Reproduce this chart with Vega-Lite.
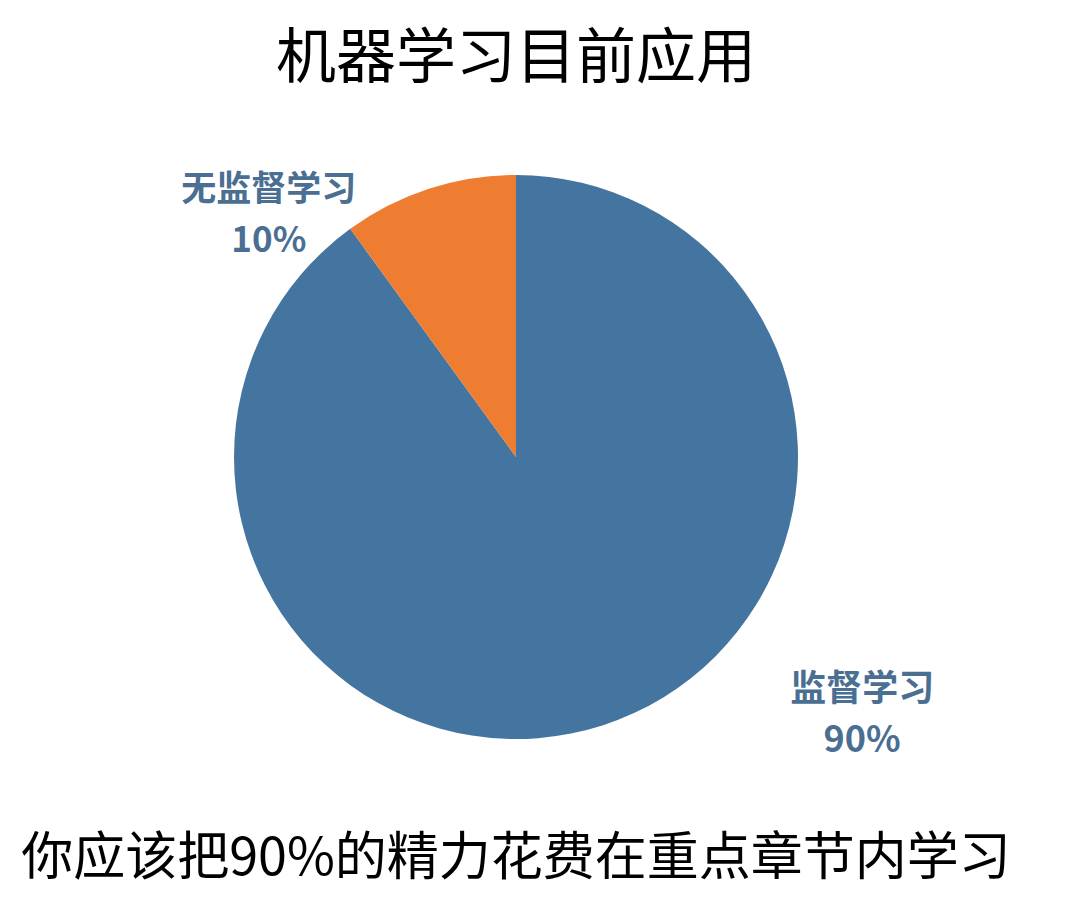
{
  "$schema": "https://vega.github.io/schema/vega-lite/v6.json",
  "background": "white",
  "padding": {"left": 21, "top": 29, "right": 20, "bottom": 40},
  "title": {
    "text": "机器学习目前应用",
    "font": "Noto Sans CJK SC",
    "fontSize": 60,
    "fontWeight": "normal",
    "color": "#000000",
    "anchor": "middle",
    "offset": 82
  },
  "bounds": "flush",
  "vconcat": [
    {
      "width": 564,
      "height": 564,
      "title": {
        "text": "你应该把90%的精力花费在重点章节内学习",
        "orient": "bottom",
        "font": "Noto Sans CJK SC",
        "fontSize": 52,
        "fontWeight": "normal",
        "color": "#000000",
        "anchor": "middle",
        "offset": 75
      },
      "data": {
        "values": [
          {"category": "监督学习", "value": 90, "label": "90%", "order": 1},
          {"category": "无监督学习", "value": 10, "label": "10%", "order": 2}
        ]
      },
      "transform": [
        {"stack": "value", "sort": [{"field": "order"}], "groupby": [], "as": ["v0", "v1"]},
        {"calculate": "(datum.v0 + datum.v1) / 2", "as": "mid"}
      ],
      "layer": [
        {
          "mark": {"type": "arc", "outerRadius": 282, "stroke": "white", "strokeWidth": 0},
          "encoding": {
            "theta": {"field": "v0", "type": "quantitative", "scale": {"domain": [0, 100], "range": [0, 6.283185307]}},
            "theta2": {"field": "v1"},
            "color": {
              "field": "category",
              "type": "nominal",
              "scale": {"domain": ["监督学习", "无监督学习"], "range": ["#4475a1", "#ee7d31"]},
              "legend": null
            }
          }
        },
        {
          "transform": [{"filter": "datum.order == 2"}],
          "mark": {"type": "text", "radius": 282, "dx": -160, "dy": 1, "align": "center", "baseline": "middle", "font": "Noto Sans CJK SC", "fontSize": 35, "fontWeight": "bold", "color": "#4a6f93", "lineHeight": 51},
          "encoding": {
            "theta": {"field": "mid", "type": "quantitative", "scale": {"domain": [0, 100], "range": [0, 6.283185307]}},
            "text": {"value": ["无监督学习", "10%"]}
          }
        },
        {
          "transform": [{"filter": "datum.order == 1"}],
          "mark": {"type": "text", "radius": 282, "dx": 259, "dy": -35, "align": "center", "baseline": "middle", "font": "Noto Sans CJK SC", "fontSize": 36, "fontWeight": "bold", "color": "#4a6f93", "lineHeight": 51},
          "encoding": {
            "theta": {"field": "mid", "type": "quantitative", "scale": {"domain": [0, 100], "range": [0, 6.283185307]}},
            "text": {"value": ["监督学习", "90%"]}
          }
        }
      ]
    }
  ]
}
